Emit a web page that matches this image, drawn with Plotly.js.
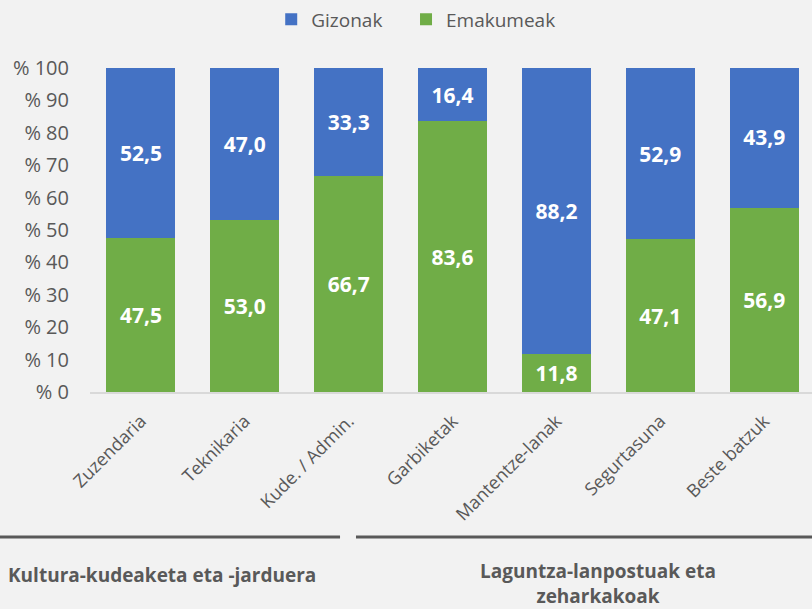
<!DOCTYPE html>
<html><head><meta charset="utf-8">
<script src="https://cdn.plot.ly/plotly-3.0.1.min.js"></script>
<style>html,body{margin:0;padding:0;background:#f2f2f2;}#c{width:812px;height:609px;}</style>
</head><body><div id="c"></div>
<script>
const categories = ["Zuzendaria","Teknikaria","Kude. / Admin.","Garbiketak","Mantentze-lanak","Segurtasuna","Beste batzuk"];
const emakumeak = [47.5, 53.0, 66.7, 83.6, 11.8, 47.1, 56.9];
const gizonak = [52.5, 47.0, 33.3, 16.4, 88.2, 52.9, 43.9];
const groupLabels = ["Kultura-kudeaketa eta -jarduera", "Laguntza-lanpostuak eta<br>zeharkakoak"];

const F = "Open Sans, sans-serif";
const traces = [
  {type:'bar', name:'Emakumeak', legend:'legend2', x:categories, y:emakumeak, marker:{color:'#70AD47'},
   texttemplate:'%{y:.1f}', textposition:'inside', insidetextanchor:'middle',
   textfont:{family:F, size:21, color:'#ffffff', weight:'bold'}, width:0.663, hoverinfo:'skip'},
  {type:'bar', name:'Gizonak', legend:'legend', x:categories, y:gizonak, marker:{color:'#4472C4'},
   texttemplate:'%{y:.1f}', textposition:'inside', insidetextanchor:'middle',
   textfont:{family:F, size:21, color:'#ffffff', weight:'bold'}, width:0.663, hoverinfo:'skip'}
];
const layout = {
  width:812, height:609, paper_bgcolor:'#f2f2f2', plot_bgcolor:'#f2f2f2',
  margin:{l:90, r:0, t:68, b:217}, barmode:'stack', separators:', ',
  font:{family:F, color:'#595959'},
  showlegend:true,
  legend:{orientation:'h', x:0.251, xanchor:'left', y:1.15, yanchor:'middle',
    font:{size:19, color:'#595959'}, bgcolor:'rgba(0,0,0,0)'},
  legend2:{orientation:'h', x:0.4377, xanchor:'left', y:1.15, yanchor:'middle',
    font:{size:19, color:'#595959'}, bgcolor:'rgba(0,0,0,0)'},
  xaxis:{type:'category', range:[-0.49, 6.46], tickangle:-45, showline:true, linecolor:'#d9d9d9', linewidth:1.5,
    ticks:'', showgrid:false, tickfont:{size:18, color:'#595959'}, ticklabelstandoff:10, fixedrange:true},
  yaxis:{range:[0,100], dtick:10, tickprefix:'% ', showgrid:false, zeroline:false, showline:false,
    tickfont:{size:20, color:'#595959'}, ticklabelstandoff:20, fixedrange:true},
  shapes:[
    {type:'line', xref:'paper', yref:'paper', x0:-0.1247, x1:0.3463, y0:-0.4475, y1:-0.4475, line:{color:'#595959', width:3}},
    {type:'line', xref:'paper', yref:'paper', x0:0.3684, x1:1.0, y0:-0.4475, y1:-0.4475, line:{color:'#595959', width:3}}
  ],
  annotations:[
    {xref:'paper', yref:'paper', x:0.1, y:-0.565, text:groupLabels[0], showarrow:false, xanchor:'center', yanchor:'middle',
     font:{size:19, color:'#595959', weight:'bold'}},
    {xref:'paper', yref:'paper', x:0.7036, y:-0.59, text:groupLabels[1], showarrow:false, xanchor:'center', yanchor:'middle',
     font:{size:19, color:'#595959', weight:'bold'}}
  ]
};
Plotly.newPlot('c', traces, layout, {displayModeBar:false, staticPlot:true});
</script></body></html>
